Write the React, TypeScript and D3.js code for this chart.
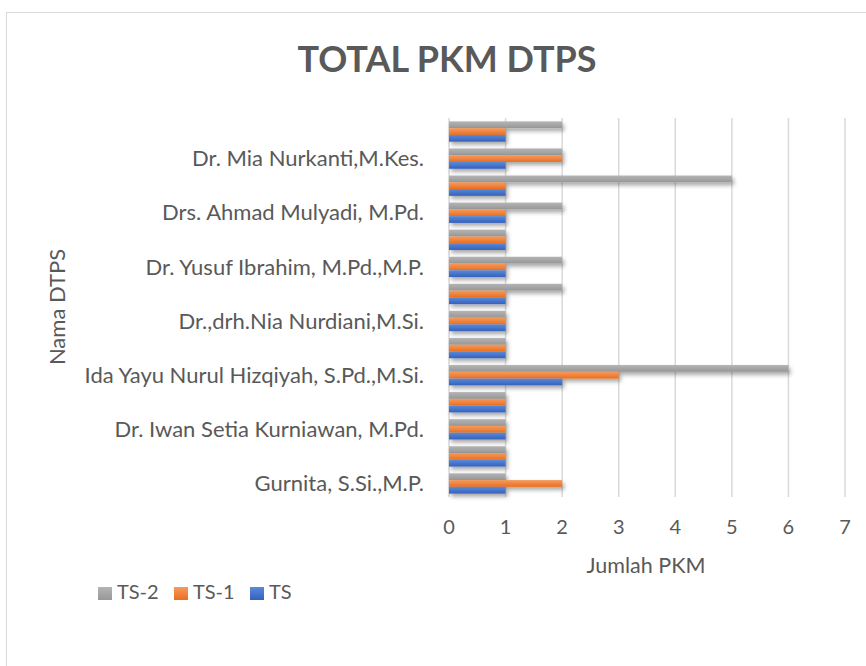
import React, { useEffect, useRef } from 'react';
import * as d3 from 'd3';

// categories from bottom to top; Excel skipped every other label
const categories = [
  'Gurnita, S.Si.,M.P.',
  '',
  'Dr. Iwan Setia Kurniawan, M.Pd.',
  '',
  'Ida Yayu Nurul Hizqiyah, S.Pd.,M.Si.',
  '',
  'Dr.,drh.Nia Nurdiani,M.Si.',
  '',
  'Dr. Yusuf Ibrahim, M.Pd.,M.P.',
  '',
  'Drs. Ahmad Mulyadi, M.Pd.',
  '',
  'Dr. Mia Nurkanti,M.Kes.',
  '',
];
const ts2 = [1, 1, 1, 1, 6, 1, 1, 2, 2, 1, 2, 5, 2, 2];
const ts1 = [2, 1, 1, 1, 3, 1, 1, 1, 1, 1, 1, 1, 2, 1];
const ts = [1, 1, 1, 1, 2, 1, 1, 1, 1, 1, 1, 1, 1, 1];
const seriesNames = ['TS-2', 'TS-1', 'TS'];
const xTicks = [0, 1, 2, 3, 4, 5, 6, 7];

const gradients = [
  { id: 'g-ts2', top: '#b4b4b4', bottom: '#979797' },
  { id: 'g-ts1', top: '#f59a5e', bottom: '#ea6f1f' },
  { id: 'g-ts', top: '#5a8ad8', bottom: '#3461bd' },
];

const textColor = '#595959';
const font = 'Lato, "Open Sans", sans-serif';

export default function App() {
  const ref = useRef<SVGSVGElement>(null);

  useEffect(() => {
    const svg = d3.select(ref.current);
    svg.selectAll('*').remove();

    const margin = { left: 449, right: 866 - 845, top: 118, bottom: 666 - 497 };
    const width = 866;
    const height = 666;

    const defs = svg.append('defs');
    gradients.forEach((g) => {
      const lg = defs
        .append('linearGradient')
        .attr('id', g.id)
        .attr('x1', 0)
        .attr('y1', 0)
        .attr('x2', 0)
        .attr('y2', 1);
      lg.append('stop').attr('offset', '0%').attr('stop-color', g.top);
      lg.append('stop').attr('offset', '100%').attr('stop-color', g.bottom);
    });
    const filter = defs
      .append('filter')
      .attr('id', 'shadow')
      .attr('x', '-20%')
      .attr('y', '-50%')
      .attr('width', '140%')
      .attr('height', '250%');
    filter
      .append('feDropShadow')
      .attr('dx', 2)
      .attr('dy', 3)
      .attr('stdDeviation', 2)
      .attr('flood-color', '#000')
      .attr('flood-opacity', 0.35);

    // frame
    svg
      .append('rect')
      .attr('x', 6.5)
      .attr('y', 12.5)
      .attr('width', 900)
      .attr('height', 700)
      .attr('fill', '#fff')
      .attr('stroke', '#d9d9d9');

    const xScale = d3
      .scaleLinear()
      .domain([0, 7])
      .range([margin.left, width - margin.right]);

    const yScale = d3
      .scaleBand<number>()
      .domain(categories.map((_, i) => i))
      .range([height - margin.bottom, margin.top])
      .paddingInner(0.25)
      .paddingOuter(0.125);

    const inner = d3
      .scaleBand()
      .domain(seriesNames)
      .range([0, yScale.bandwidth()]);

    // gridlines
    svg
      .append('g')
      .selectAll('line')
      .data(xTicks)
      .enter()
      .append('line')
      .attr('x1', (d) => xScale(d))
      .attr('x2', (d) => xScale(d))
      .attr('y1', margin.top)
      .attr('y2', height - margin.bottom)
      .attr('stroke', '#d9d9d9')
      .attr('stroke-width', 1.5);

    const seriesData = [ts2, ts1, ts];

    seriesData.forEach((values, si) => {
      svg
        .append('g')
        .attr('filter', 'url(#shadow)')
        .selectAll('rect')
        .data(values)
        .enter()
        .append('rect')
        .attr('x', xScale(0))
        .attr('y', (_, i) => (yScale(i) as number) + (inner(seriesNames[si]) as number))
        .attr('width', (d) => xScale(d) - xScale(0))
        .attr('height', inner.bandwidth())
        .attr('fill', `url(#${gradients[si].id})`);
    });

    // category labels
    svg
      .append('g')
      .selectAll('text')
      .data(categories.map((c, i) => ({ c, i })).filter((d) => d.c !== ''))
      .enter()
      .append('text')
      .attr('x', 424)
      .attr('y', (d) => (yScale(d.i) as number) + yScale.bandwidth() / 2)
      .attr('dy', '0.35em')
      .attr('text-anchor', 'end')
      .attr('fill', textColor)
      .style('font-family', font)
      .style('font-size', '22px')
      .text((d) => d.c);

    // x tick labels
    svg
      .append('g')
      .selectAll('text')
      .data(xTicks)
      .enter()
      .append('text')
      .attr('x', (d) => xScale(d))
      .attr('y', 534)
      .attr('text-anchor', 'middle')
      .attr('fill', textColor)
      .style('font-family', font)
      .style('font-size', '20px')
      .text((d) => d);

    // axis titles
    svg
      .append('text')
      .attr('x', 646)
      .attr('y', 573)
      .attr('text-anchor', 'middle')
      .attr('fill', textColor)
      .style('font-family', font)
      .style('font-size', '21.5px')
      .text('Jumlah PKM');

    svg
      .append('text')
      .attr('transform', 'translate(65, 307) rotate(-90)')
      .attr('text-anchor', 'middle')
      .attr('fill', textColor)
      .style('font-family', font)
      .style('font-size', '22px')
      .text('Nama DTPS');

    // title
    svg
      .append('text')
      .attr('x', 447)
      .attr('y', 72)
      .attr('text-anchor', 'middle')
      .attr('fill', textColor)
      .style('font-family', font)
      .style('font-weight', 'bold')
      .style('font-size', '36px')
      .text('TOTAL PKM DTPS');

    // legend
    const legendX = [98, 174, 250];
    const legend = svg
      .append('g')
      .selectAll('g')
      .data(seriesNames)
      .enter()
      .append('g')
      .attr('transform', (_, i) => `translate(${legendX[i]}, 587)`);
    legend
      .append('rect')
      .attr('width', 14)
      .attr('height', 13)
      .attr('fill', (_, i) => `url(#${gradients[i].id})`);
    legend
      .append('text')
      .attr('x', 19)
      .attr('y', 12)
      .attr('fill', textColor)
      .style('font-family', font)
      .style('font-size', '20px')
      .text((d) => d);
  }, []);

  return (
    <svg
      ref={ref}
      width={866}
      height={666}
      style={{ position: 'absolute', left: 0, top: 0 }}
    />
  );
}
